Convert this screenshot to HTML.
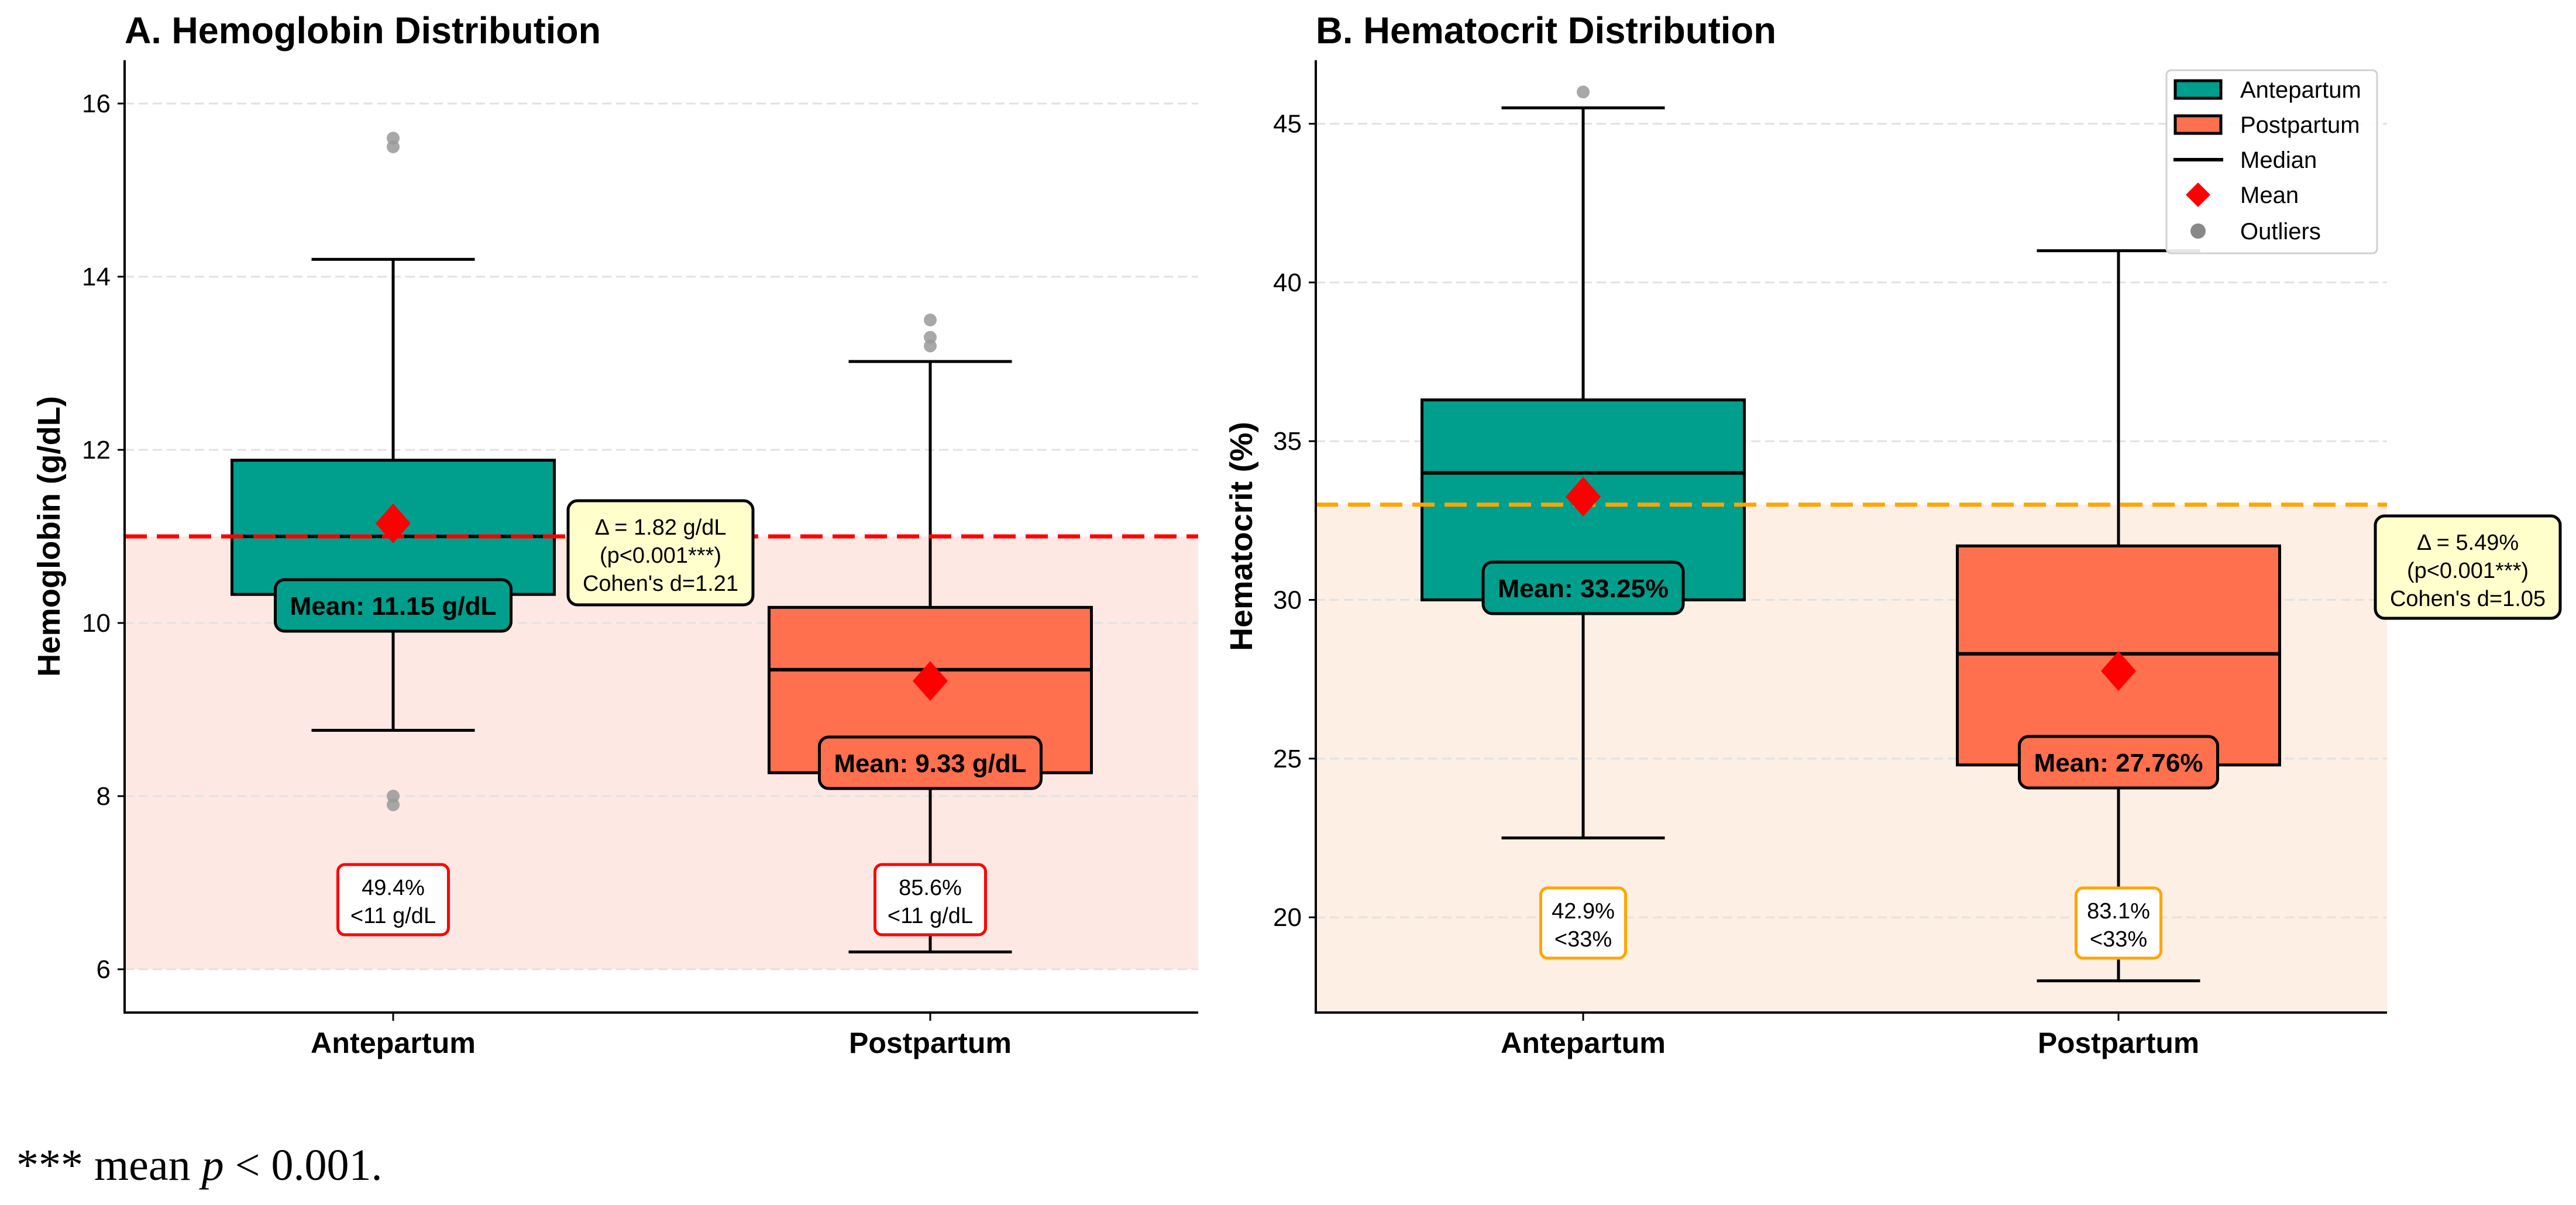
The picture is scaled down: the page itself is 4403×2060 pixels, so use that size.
<!DOCTYPE html>
<html><head><meta charset="utf-8"><style>
html,body{margin:0;padding:0;background:#fff}
svg{display:block}
text{font-family:"Liberation Sans","DejaVu Sans",sans-serif}
</style></head><body>
<svg id="fig" width="4403" height="2060" viewBox="0 0 4403 2060" xmlns="http://www.w3.org/2000/svg">
<rect width="4403" height="2060" fill="#fff"/>
<text x="28" y="2017" font-family="Liberation Serif, serif" font-size="76" style="font-family:'Liberation Serif',serif">*** mean <tspan font-style="italic">p</tspan> &lt; 0.001.</text>
</svg>
<script>
// ---- data ----
const categories = ["Antepartum", "Postpartum"];
const hbQ1 = [10.33, 8.27];
const hbQ3 = [11.88, 10.18];
const hbMedian = [11.0, 9.46];
const hbMean = [11.15, 9.33];
const hbWhiskerLow = [8.76, 6.2];
const hbWhiskerHigh = [14.2, 13.02];
const hbOutliers = [[15.6, 15.5, 8.0, 7.9], [13.5, 13.3, 13.2]];
const hbPct = ["49.4%", "85.6%"];
const hbTicks = [6, 8, 10, 12, 14, 16];
const hbThreshold = 11;
const hbMeanLabels = ["Mean: 11.15 g/dL", "Mean: 9.33 g/dL"];

const hctQ1 = [30.0, 24.8];
const hctQ3 = [36.3, 31.7];
const hctMedian = [34.0, 28.3];
const hctMean = [33.25, 27.76];
const hctWhiskerLow = [22.5, 18.0];
const hctWhiskerHigh = [45.5, 41.0];
const hctOutliers = [[46.0], []];
const hctPct = ["42.9%", "83.1%"];
const hctTicks = [20, 25, 30, 35, 40, 45];
const hctThreshold = 33;
const hctMeanLabels = ["Mean: 33.25%", "Mean: 27.76%"];

const NS = "http://www.w3.org/2000/svg";
const svg = document.getElementById("fig");
function el(tag, attrs, parent, txt) {
  const e = document.createElementNS(NS, tag);
  for (const k in attrs) e.setAttribute(k, attrs[k]);
  if (txt !== undefined) e.textContent = txt;
  (parent || svg).appendChild(e);
  return e;
}
const colors = ["#009e8c", "#ff704e"];

function panel(cfg) {
  const g = el("g", {});
  
  
  const L = cfg.left, R = cfg.right, T = 103, B = 1731;
  const y = v => B - (v - cfg.ymin) / (cfg.ymax - cfg.ymin) * (B - T);
  const x = i => cfg.cx[i];
  // shade
  const sh = el("rect", {x: L, y: y(cfg.thr), width: R - L, height: y(cfg.shadeLow) - y(cfg.thr), fill: cfg.shade}, g);
  
  
  // grid
  cfg.ticks.forEach(t => {
    const gl = el("line", {x1: L, x2: R, y1: y(t), y2: y(t), stroke: "#e2e2e2", "stroke-width": 3, "stroke-dasharray": "16 8"}, g);
    
    
    const tk = el("line", {x1: L - 12, x2: L, y1: y(t), y2: y(t), stroke: "#000", "stroke-width": 3}, g);
    
    
    const tl = el("text", {x: L - 24, y: y(t) + 15, "text-anchor": "end", "font-size": 44}, g, String(t));
    
    
  });
  const bw = 551, cw = 279;
  categories.forEach((c, i) => {
    const cx = x(i);
    // whiskers
    const w1 = el("line", {x1: cx, x2: cx, y1: y(cfg.q3[i]), y2: y(cfg.wh[i]), stroke: "#000", "stroke-width": 5}, g);
    
    
    const w2 = el("line", {x1: cx, x2: cx, y1: y(cfg.q1[i]), y2: y(cfg.wl[i]), stroke: "#000", "stroke-width": 5}, g);
    
    
    [cfg.wh[i], cfg.wl[i]].forEach(v => {
      const cap = el("line", {x1: cx - cw / 2, x2: cx + cw / 2, y1: y(v), y2: y(v), stroke: "#000", "stroke-width": 5}, g);
      
      
    });
    const box = el("rect", {x: cx - bw / 2, y: y(cfg.q3[i]), width: bw, height: y(cfg.q1[i]) - y(cfg.q3[i]), fill: colors[i], stroke: "#000", "stroke-width": 5}, g);
    
    
    const md = el("line", {x1: cx - bw / 2, x2: cx + bw / 2, y1: y(cfg.med[i]), y2: y(cfg.med[i]), stroke: "#000", "stroke-width": 6}, g);
    
    
    cfg.out[i].forEach(v => {
      const o = el("circle", {cx: cx, cy: y(v), r: 11, fill: "#999", opacity: 0.85}, g);
      
      
    });
  });
  // threshold
  const th = el("line", {x1: L, x2: R, y1: y(cfg.thr), y2: y(cfg.thr), stroke: cfg.thrColor, "stroke-width": 7, "stroke-dasharray": "38 17"}, g);
  
  
  categories.forEach((c, i) => {
    const cx = x(i), my = y(cfg.mean[i]);
    const d = el("polygon", {points: `${cx},${my - 34} ${cx + 30},${my} ${cx},${my + 34} ${cx - 30},${my}`, fill: "#f00"}, g);
    
    
    // mean label
    const lw = cfg.mlw[i], ly = cfg.mly[i];
    const lb = el("rect", {x: cx - lw / 2, y: ly - 44, width: lw, height: 88, rx: 16, fill: colors[i], stroke: "#000", "stroke-width": 5}, g);
    
    
    const lt = el("text", {x: cx, y: ly + 16, "text-anchor": "middle", "font-size": 44, "font-weight": "bold", textLength: lw - 50, lengthAdjust: "spacingAndGlyphs"}, g, cfg.mlabels[i]);
    
    
    // pct box
    const pw = cfg.pw, py = cfg.py;
    const pb = el("rect", {x: cx - pw / 2, y: py - 60, width: pw, height: 120, rx: 12, fill: "#fff", stroke: cfg.thrColor, "stroke-width": 5}, g);
    
    
    const p1 = el("text", {x: cx, y: py - 8, "text-anchor": "middle", "font-size": 38}, g, cfg.pct[i]);
    
    
    const p2 = el("text", {x: cx, y: py + 40, "text-anchor": "middle", "font-size": 38}, g, cfg.pctLabel);
    
    
    // x tick & label
    const xt = el("line", {x1: cx, x2: cx, y1: B, y2: B + 14, stroke: "#000", "stroke-width": 3}, g);
    
    
    const xl = el("text", {x: cx, y: 1800, "text-anchor": "middle", "font-size": 50, "font-weight": "bold", textLength: cfg.xlw[i], lengthAdjust: "spacingAndGlyphs"}, g, c);
    
    
  });
  // axes
  const ax = el("path", {d: `M${L},${T} L${L},${B} L${R},${B}`, fill: "none", stroke: "#000", "stroke-width": 4}, g);
  
  
  const ti = el("text", {x: L, y: 74, "font-size": 64, "font-weight": "bold", textLength: cfg.titleW, lengthAdjust: "spacingAndGlyphs"}, g, cfg.title);
  
  
  const yl = el("text", {x: 0, y: 0, "text-anchor": "middle", "font-size": 54, "font-weight": "bold", transform: `translate(${cfg.ylx},917) rotate(-90)`, textLength: cfg.ylw, lengthAdjust: "spacingAndGlyphs"}, g, cfg.ylabel);
  
  
  // delta box
  const db = cfg.delta;
  const dr = el("rect", {x: db.x, y: db.y, width: db.w, height: db.h, rx: 16, fill: "#ffffcc", stroke: "#000", "stroke-width": 5}, g);
  
  
  db.lines.forEach((t, k) => {
    const dt = el("text", {x: db.x + db.w / 2, y: db.y + 58 + k * 48, "text-anchor": "middle", "font-size": 38}, g, t);
    
    
  });
  return g;
}

panel({name: "hemoglobin-panel", left: 213, right: 2048, ymin: 5.5, ymax: 16.5, cx: [672, 1590],
  q1: hbQ1, q3: hbQ3, med: hbMedian, mean: hbMean, wl: hbWhiskerLow, wh: hbWhiskerHigh, out: hbOutliers,
  ticks: hbTicks, thr: hbThreshold, shadeLow: 6, shade: "#fde8e4", thrColor: "#ff0000",
  mlabels: hbMeanLabels, mlw: [403, 379], mly: [1035, 1304], pct: hbPct, pctLabel: "<11 g/dL", pw: 189, py: 1538,
  xlw: [282, 278], title: "A. Hemoglobin Distribution", titleW: 814, ylabel: "Hemoglobin (g/dL)", ylx: 102, ylw: 480,
  delta: {x: 971, y: 856, w: 316, h: 178, lines: ["Δ = 1.82 g/dL", "(p<0.001***)", "Cohen's d=1.21"]}});

panel({name: "hematocrit-panel", left: 2249, right: 4080, ymin: 17, ymax: 47, cx: [2706, 3621],
  q1: hctQ1, q3: hctQ3, med: hctMedian, mean: hctMean, wl: hctWhiskerLow, wh: hctWhiskerHigh, out: hctOutliers,
  ticks: hctTicks, thr: hctThreshold, shadeLow: 17, shade: "#fdefe4", thrColor: "#ffa500",
  mlabels: hctMeanLabels, mlw: [342, 339], mly: [1005, 1303], pct: hctPct, pctLabel: "<33%", pw: 145, py: 1578,
  xlw: [282, 276], title: "B. Hematocrit Distribution", titleW: 787, ylabel: "Hematocrit (%)", ylx: 2140, ylw: 392,
  delta: {x: 4060, y: 882, w: 316, h: 175, lines: ["Δ = 5.49%", "(p<0.001***)", "Cohen's d=1.05"]}});

// legend
const lg = el("g", {});


const lr = el("rect", {x: 3703, y: 120, width: 360, height: 313, rx: 8, fill: "#fff", "fill-opacity": 0.9, stroke: "#d0d0d0", "stroke-width": 3}, lg);


const legendLabels = ["Antepartum", "Postpartum", "Median", "Mean", "Outliers"];
const rows = [153, 213, 273, 333, 395];
legendLabels.forEach((t, i) => {
  const ry = rows[i];
  let m;
  if (i < 2) m = el("rect", {x: 3718, y: ry - 15, width: 78, height: 30, fill: colors[i], stroke: "#000", "stroke-width": 5}, lg);
  else if (i === 2) m = el("line", {x1: 3715, x2: 3800, y1: ry, y2: ry, stroke: "#000", "stroke-width": 6}, lg);
  else if (i === 3) m = el("polygon", {points: `3757,${ry - 21} 3778,${ry} 3757,${ry + 21} 3736,${ry}`, fill: "#f00"}, lg);
  else m = el("circle", {cx: 3757, cy: ry, r: 13, fill: "#888"}, lg);
  
  
  const tx = el("text", {x: 3829, y: ry + 14, "font-size": 40}, lg, t);
  
  
});
</script>
</body></html>
